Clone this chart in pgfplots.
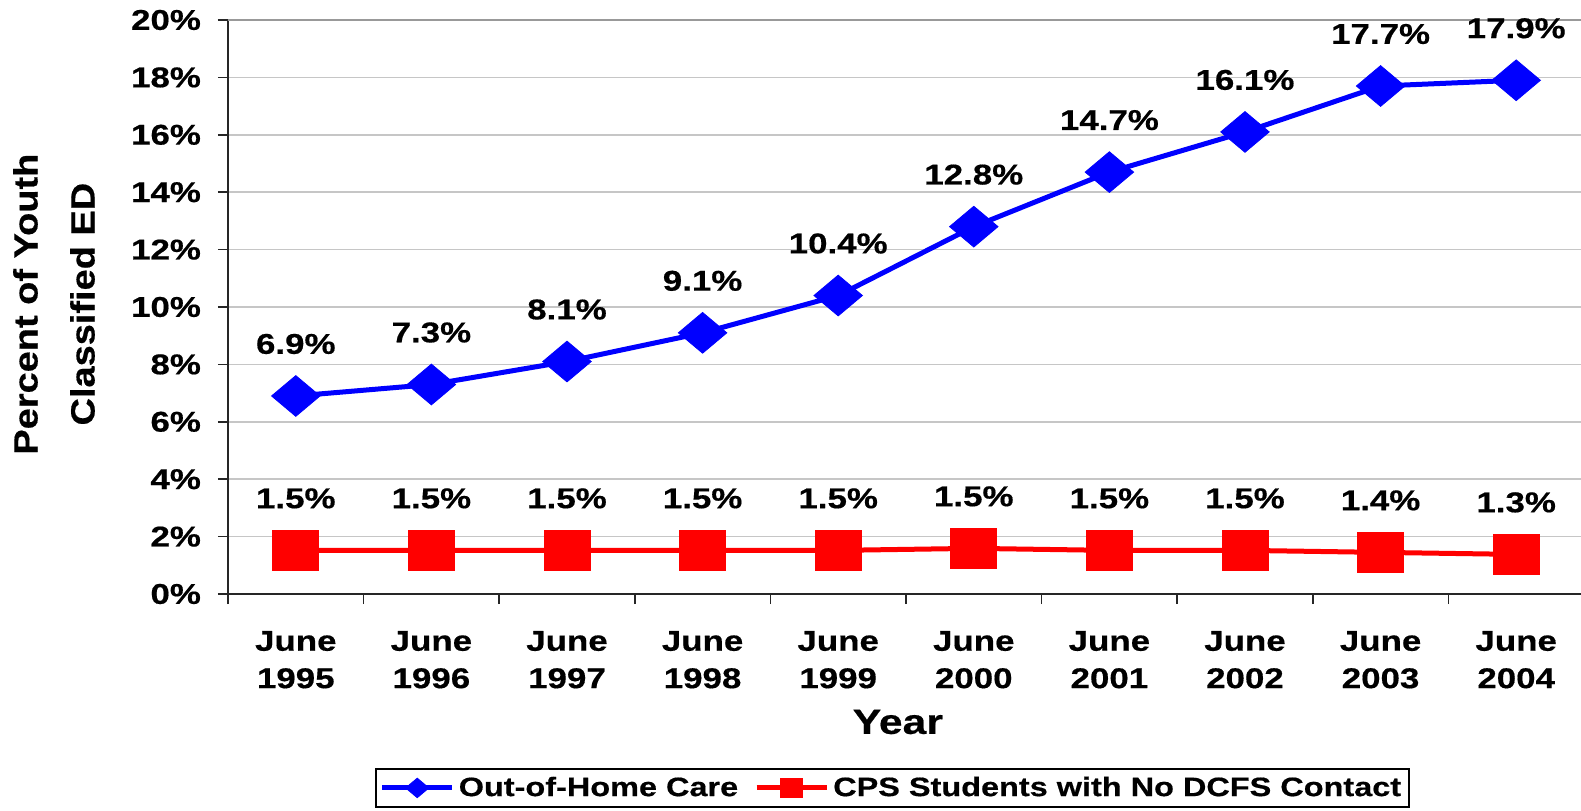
\documentclass[border=0pt]{standalone}
\usepackage{fontspec}
\setmainfont{Liberation Sans}[FakeStretch=1.22, BoldFeatures={FakeBold=0.5}]
\newfontfamily\ylabfont{Liberation Sans}[FakeStretch=1.13, BoldFeatures={FakeBold=0.5}]
\usepackage{pgfplots}
\pgfplotsset{compat=1.18}
\definecolor{xlblue}{RGB}{0,0,255}
\definecolor{xlred}{RGB}{255,0,0}
\newcommand{\lbl}{\fontsize{14.3}{18.7}\selectfont\bfseries}
\begin{document}
\begin{tikzpicture}
\useasboundingbox (0,0) rectangle (790.5pt,405pt);
\begin{axis}[
  at={(114pt,108pt)}, anchor=south west,
  scale only axis, width=678pt, height=287pt,
  xmin=-0.5, xmax=9.5, ymin=0, ymax=20,
  clip=false,
  axis x line*=bottom, axis y line*=left,
  axis line style={line width=0.8pt, black!85},
  tick align=outside, major tick length=5pt,
  tick style={line width=0.8pt, black!85},
  xtick={-0.5,0.5,...,9.5}, xticklabels={},
  extra x ticks={0,1,2,3,4,5,6,7,8,9},
  extra x tick labels={{June\\1995},{June\\1996},{June\\1997},{June\\1998},{June\\1999},{June\\2000},{June\\2001},{June\\2002},{June\\2003},{June\\2004}},
  extra x tick style={major tick length=0pt, tick label style={align=center, font=\lbl, yshift=-15pt}},
  ytick={0,2,...,20},
  yticklabel={\pgfmathprintnumber{\tick}\%},
  yticklabel style={font=\lbl, anchor=east, xshift=-5pt},
  /pgf/number format/assume math mode=true,
  ymajorgrids, grid style={gray!45, line width=0.8pt},
  extra y ticks={20}, extra y tick labels={},
  extra y tick style={grid style={gray!80, line width=1pt}},
  xlabel={Year},
  xlabel style={at={([yshift=-64pt]axis description cs:0.494,0)}, anchor=center, font=\fontsize{17.5}{20}\selectfont\bfseries},
  ylabel={Percent of Youth\\Classified ED},
  ylabel style={at={([xshift=-87pt]axis description cs:0,0.505)}, anchor=center, align=center, font=\ylabfont\fontsize{16.8}{28.5}\selectfont\bfseries},
  nodes near coords, point meta=explicit symbolic,
  every node near coord/.append style={font=\lbl, text=black, anchor=center, yshift=26pt},
  legend columns=2,
  legend style={at={([yshift=-87pt]axis description cs:0.49,0)}, anchor=north, draw=black, line width=0.8pt, inner sep=2pt, font=\fontsize{13.3}{15}\selectfont\bfseries, /tikz/every even column/.append style={column sep=6pt}},
  legend image code/.code={\draw[mark repeat=2, mark phase=2, #1, every mark/.append style={scale=0.48}] plot coordinates {(0pt,0pt) (17.5pt,0pt) (35pt,0pt)};},
]
\addplot[xlblue, line width=2.5pt, mark=square*, mark size=7.2pt,
  mark options={line width=0.4pt, xscale=1.19, rotate=45}]
  coordinates {(0,6.9) [6.9\%] (1,7.3) [7.3\%] (2,8.1) [8.1\%] (3,9.1) [9.1\%] (4,10.4) [10.4\%]
               (5,12.8) [12.8\%] (6,14.7) [14.7\%] (7,16.1) [16.1\%] (8,17.7) [17.7\%] (9,17.9) [17.9\%]};
\addlegendentry{Out-of-Home Care}
\addplot[xlred, line width=2.5pt, mark=square*, mark size=10pt,
  mark options={line width=0.4pt, xscale=1.15}]
  coordinates {(0,1.52) [1.5\%] (1,1.52) [1.5\%] (2,1.52) [1.5\%] (3,1.52) [1.5\%] (4,1.52) [1.5\%]
               (5,1.59) [1.5\%] (6,1.52) [1.5\%] (7,1.52) [1.5\%] (8,1.45) [1.4\%] (9,1.38) [1.3\%]};
\addlegendentry{CPS Students with No DCFS Contact}
\end{axis}
\end{tikzpicture}
\end{document}
